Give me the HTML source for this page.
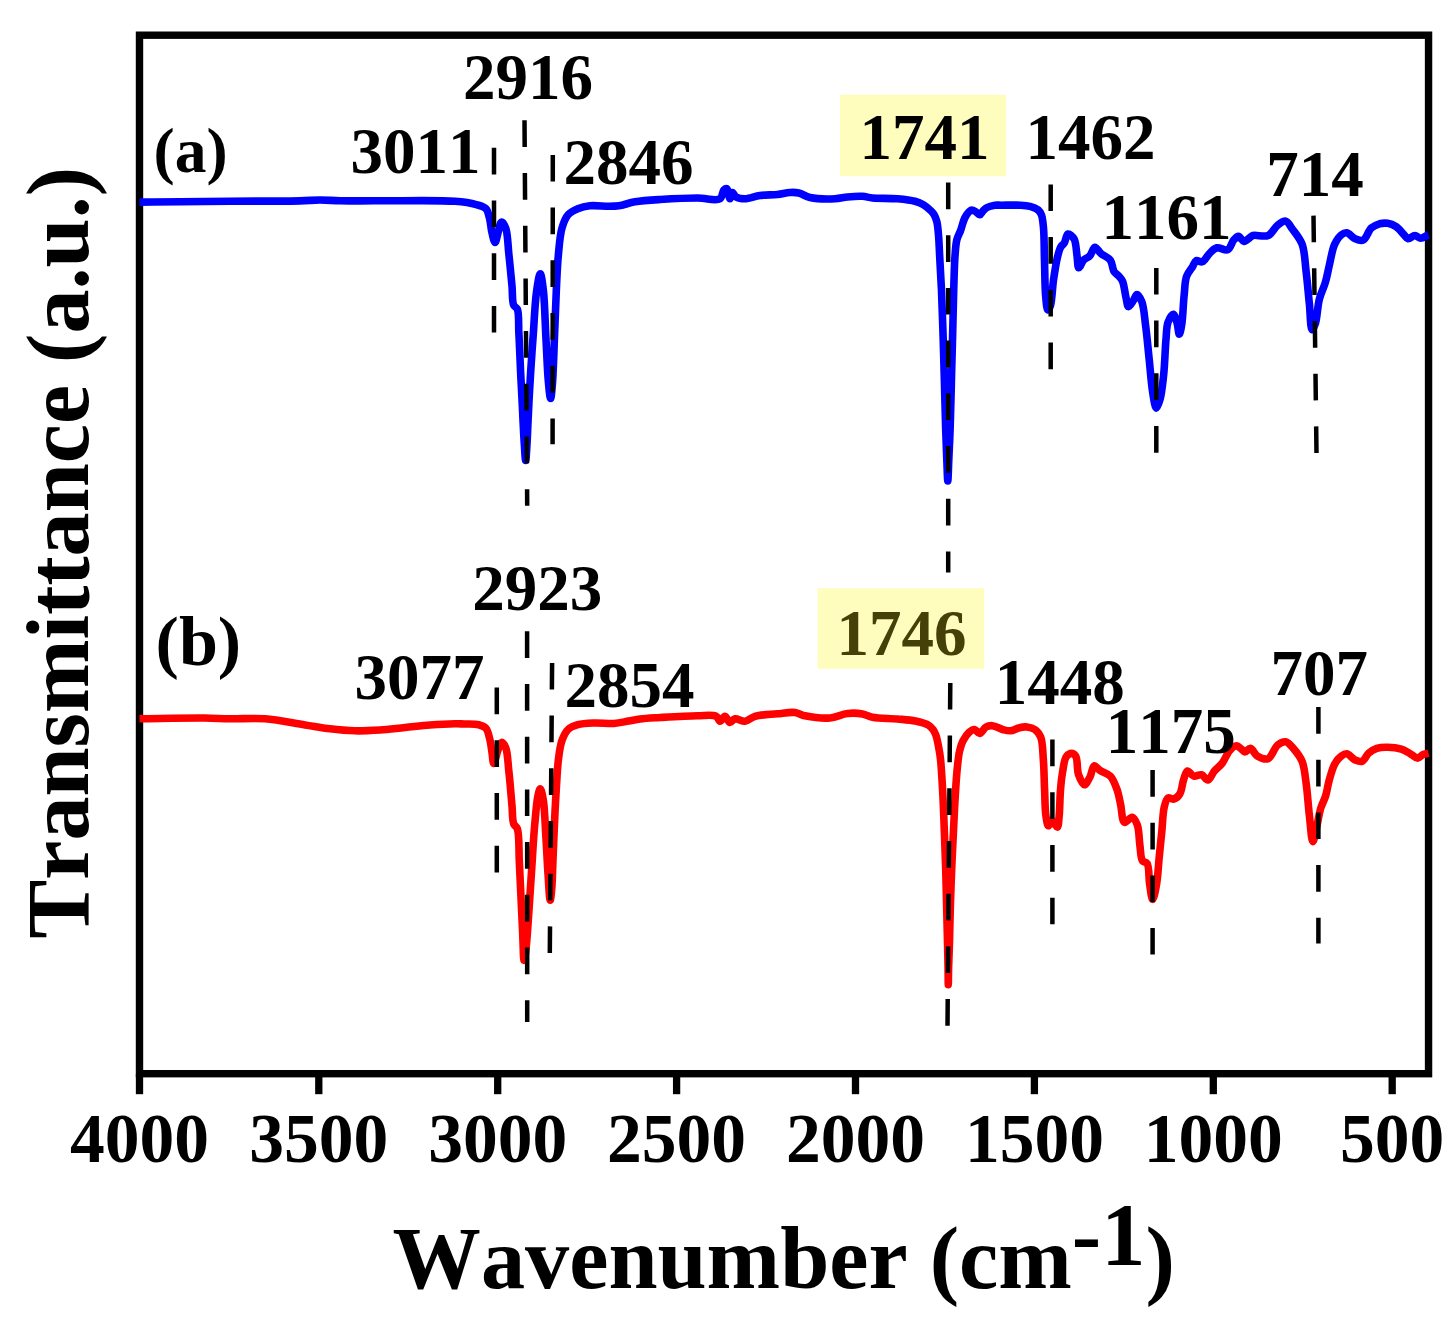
<!DOCTYPE html>
<html lang="en">
<head>
<meta charset="utf-8">
<title>FTIR spectra</title>
<style>
html,body{margin:0;padding:0;background:#fff;}
body{width:1455px;height:1324px;overflow:hidden;}
svg{display:block;font-family:"Liberation Serif",serif;font-weight:bold;font-kerning:none;}
.ax line{stroke:#000;stroke-width:7.3;}
.dash line{stroke:#000;stroke-width:4.5;stroke-dasharray:26.7 26.0;}
.tick text{font-size:69.5px;text-anchor:middle;}
.pk text{font-size:65px;}
.ttl{font-size:88.3px;}
.curve{fill:none;stroke-width:7.6;stroke-linejoin:round;stroke-linecap:butt;}
</style>
</head>
<body>
<svg width="1455" height="1324" viewBox="0 0 1455 1324">
<rect width="1455" height="1324" fill="#fff"/>
<rect x="839.9" y="94.7" width="166.2" height="81.5" fill="#fffdbe"/>
<rect x="817.6" y="588.2" width="166.6" height="80.6" fill="#fffdbe"/>
<g class="ax">
<rect x="139.5" y="35.2" width="1289.05" height="1038.5" fill="none" stroke="#000" stroke-width="7.4"/>
<line x1="139.5" y1="1074" x2="139.5" y2="1094.2"/>
<line x1="318.8" y1="1074" x2="318.8" y2="1094.2"/>
<line x1="497.7" y1="1074" x2="497.7" y2="1094.2"/>
<line x1="676.6" y1="1074" x2="676.6" y2="1094.2"/>
<line x1="855.5" y1="1074" x2="855.5" y2="1094.2"/>
<line x1="1034.4" y1="1074" x2="1034.4" y2="1094.2"/>
<line x1="1213.3" y1="1074" x2="1213.3" y2="1094.2"/>
<line x1="1392.2" y1="1074" x2="1392.2" y2="1094.2"/>
</g>
<path class="curve" stroke="#0000ff" d="M139.5,202.1C153.0,202.0 165.8,201.9 180.0,201.8C195.8,201.6 211.9,201.3 230.0,201.2C251.4,201.0 283.7,201.3 300.0,200.9C308.7,200.7 313.3,200.0 320.0,200.0C326.7,200.0 332.2,200.6 340.0,200.8C351.0,201.0 364.6,200.7 380.0,200.8C401.1,200.9 437.7,199.9 455.0,201.3C464.3,202.0 470.7,203.0 476.3,204.6C480.2,205.7 483.7,206.4 485.9,208.7C488.1,211.0 488.5,214.7 489.5,218.3C490.7,222.6 490.9,228.5 492.0,232.8C492.9,236.4 494.1,242.5 495.1,242.5C496.1,242.5 497.0,236.1 498.0,232.8C499.1,229.3 500.1,222.2 501.6,222.0C502.8,221.8 504.6,225.1 505.7,228.0C507.8,233.6 507.9,245.4 508.9,254.6C510.0,264.6 511.1,276.8 512.0,286.0C512.7,293.2 512.0,301.5 513.7,305.3C514.6,307.2 516.4,307.0 517.3,309.0C519.2,313.2 518.4,324.1 518.8,332.0C519.3,340.4 519.6,349.7 520.0,358.0C520.3,365.6 520.6,372.6 521.0,380.0C521.4,387.6 521.8,395.5 522.2,403.0C522.6,410.2 522.8,417.1 523.2,424.0C523.5,430.7 523.9,437.7 524.3,444.0C524.7,449.7 525.2,460.4 525.7,460.4C526.1,460.4 526.6,449.7 527.0,444.0C527.4,437.7 527.6,430.7 527.9,424.0C528.2,417.1 528.5,410.2 528.9,403.0C529.3,395.5 529.7,387.6 530.2,380.0C530.6,372.6 531.1,365.5 531.6,358.0C532.1,350.2 532.6,343.1 533.3,334.0C534.2,321.9 534.9,303.1 536.5,292.0C537.5,284.7 539.1,273.9 540.3,273.9C541.4,273.9 542.6,283.7 543.4,290.8C544.8,302.8 545.1,323.6 546.0,339.2C546.8,353.9 547.4,371.1 548.4,382.0C549.0,388.8 549.9,398.4 550.6,398.4C551.2,398.4 551.9,390.1 552.4,384.0C553.3,373.2 553.8,354.4 554.4,339.2C555.1,323.4 555.6,305.8 556.3,290.8C556.9,277.9 557.3,265.7 558.4,254.6C559.3,245.0 559.9,235.2 562.0,228.0C563.5,222.7 565.2,218.0 568.1,214.7C570.7,211.8 574.3,210.2 577.8,208.7C581.5,207.2 585.3,206.3 589.8,205.8C595.5,205.2 603.8,206.4 609.2,206.3C613.0,206.3 615.3,206.3 618.9,205.8C623.6,205.1 629.0,202.8 635.0,201.8C642.4,200.6 650.8,200.1 660.0,199.5C671.2,198.8 686.6,198.0 697.5,198.0C706.0,198.0 715.9,201.4 720.0,198.8C722.7,197.1 722.2,191.5 723.8,190.0C724.8,189.1 726.1,188.4 727.0,188.8C728.5,189.6 729.0,198.8 730.0,198.8C730.8,198.8 731.4,192.7 732.5,192.5C733.5,192.4 734.3,196.0 736.0,197.0C738.2,198.3 741.6,198.8 745.0,198.8C749.4,198.8 754.8,196.2 760.0,195.5C765.6,194.7 772.2,195.1 777.5,194.5C782.0,194.0 786.2,192.7 790.0,192.5C793.2,192.3 795.7,192.3 798.8,193.0C802.4,193.8 805.4,196.5 810.0,197.5C816.6,199.0 828.1,199.1 835.0,198.8C839.9,198.6 843.1,197.4 847.5,197.0C852.3,196.5 858.0,196.0 862.5,196.3C866.2,196.5 868.4,197.6 872.5,198.0C878.9,198.6 889.9,198.1 897.5,198.8C903.9,199.4 910.4,200.1 915.0,201.3C918.2,202.2 920.4,203.0 923.0,204.5C925.8,206.1 929.0,208.9 931.0,210.9C932.4,212.3 933.3,213.2 934.2,214.8C935.3,216.7 936.1,218.9 936.8,221.5C937.7,225.0 938.0,229.3 938.4,234.0C939.0,240.1 939.2,247.1 939.6,255.0C940.2,265.3 940.9,278.0 941.5,290.6C942.1,304.8 942.6,320.9 943.1,336.0C943.6,351.1 944.0,366.2 944.4,381.3C944.8,396.4 945.2,412.4 945.6,426.6C946.0,439.1 946.5,452.0 946.9,462.0C947.2,469.3 947.5,480.9 947.8,480.9C948.1,480.9 948.4,469.3 948.7,462.0C949.1,452.0 949.8,439.1 950.2,426.6C950.7,412.4 951.0,396.4 951.4,381.3C951.8,366.2 952.2,351.1 952.6,336.0C953.0,320.9 953.3,304.7 953.7,290.6C954.1,278.3 954.3,265.3 955.0,256.0C955.5,249.6 955.7,244.5 956.8,240.0C957.7,236.5 959.1,234.3 960.4,231.0C962.0,226.9 963.1,220.7 965.3,217.0C967.0,214.1 969.3,210.8 971.3,210.2C972.7,209.8 974.2,210.8 975.5,211.5C977.0,212.3 978.5,214.9 979.8,214.8C981.0,214.7 981.8,212.2 983.0,211.0C984.2,209.8 985.3,208.4 987.0,207.5C989.1,206.4 992.4,205.6 994.9,205.2C997.2,204.9 998.7,205.2 1001.5,205.2C1006.2,205.2 1015.6,204.9 1020.8,205.2C1024.4,205.4 1027.1,205.6 1030.0,206.4C1032.9,207.2 1036.2,208.3 1038.2,210.0C1039.8,211.4 1040.7,212.8 1041.5,215.0C1042.7,218.2 1043.0,222.7 1043.5,228.0C1044.3,236.4 1044.1,249.3 1044.5,260.4C1044.9,272.2 1044.8,287.6 1045.7,296.7C1046.2,302.2 1046.7,309.8 1047.9,310.0C1048.6,310.1 1049.6,308.2 1050.3,306.3C1052.0,301.6 1052.3,288.5 1053.5,280.0C1054.7,272.1 1056.0,263.0 1057.5,257.0C1058.5,253.0 1059.3,249.6 1060.7,247.1C1061.7,245.3 1063.2,244.7 1064.3,243.0C1065.7,240.7 1066.2,234.5 1068.0,234.0C1069.6,233.6 1072.5,236.3 1074.0,238.8C1076.2,242.5 1076.2,250.4 1077.0,255.5C1077.7,259.9 1077.5,267.5 1078.8,267.8C1079.9,268.0 1081.7,262.1 1083.7,260.0C1085.5,258.2 1088.0,257.7 1089.8,255.8C1091.9,253.6 1093.0,247.4 1094.9,247.2C1096.7,247.0 1098.5,251.4 1100.8,253.4C1103.5,255.8 1108.2,257.2 1110.4,260.2C1112.6,263.2 1112.3,268.7 1114.0,271.5C1115.3,273.5 1117.3,274.4 1118.7,276.0C1120.1,277.6 1121.4,278.8 1122.5,281.2C1124.2,285.1 1124.9,293.4 1126.1,298.1C1126.9,301.4 1127.2,306.3 1128.5,306.6C1129.7,306.8 1132.0,302.6 1133.4,300.5C1134.8,298.5 1135.7,294.5 1137.0,294.5C1138.5,294.5 1140.5,298.4 1141.8,301.7C1143.9,307.0 1144.4,316.3 1145.5,324.7C1146.9,334.9 1147.9,347.2 1149.1,358.5C1150.3,369.8 1151.2,383.3 1152.7,392.4C1153.7,398.7 1154.9,408.0 1156.3,408.1C1157.4,408.2 1159.0,403.2 1160.0,399.6C1161.7,393.7 1162.6,384.3 1163.6,375.4C1164.8,364.6 1165.1,349.0 1166.0,339.2C1166.6,332.5 1166.4,326.7 1168.0,322.3C1169.2,319.0 1171.8,314.2 1173.3,314.3C1174.7,314.4 1175.9,319.3 1176.9,322.3C1178.0,325.8 1178.5,334.3 1179.3,334.3C1180.1,334.3 1181.0,328.8 1181.7,324.7C1182.9,317.7 1183.2,304.4 1184.1,295.7C1184.9,288.6 1184.7,281.5 1186.6,276.3C1188.0,272.4 1190.9,269.5 1192.6,266.7C1194.0,264.4 1194.5,261.4 1196.2,260.6C1197.8,259.9 1200.4,262.5 1202.3,261.8C1204.9,260.9 1207.0,255.8 1209.5,253.4C1211.8,251.2 1214.0,248.5 1216.8,247.8C1219.9,247.1 1224.8,251.0 1227.6,249.8C1230.5,248.5 1231.6,242.5 1233.7,240.1C1235.2,238.4 1236.8,236.3 1238.4,236.3C1240.2,236.4 1242.0,241.2 1244.0,241.4C1245.9,241.6 1248.3,238.6 1250.0,237.5C1251.2,236.7 1251.6,235.9 1253.1,235.5C1256.2,234.6 1264.0,237.3 1268.1,235.5C1272.1,233.8 1274.3,227.7 1277.6,225.2C1280.2,223.2 1283.3,220.6 1285.7,221.1C1288.3,221.6 1290.1,226.0 1292.5,229.2C1295.6,233.4 1299.8,238.2 1302.1,244.2C1304.9,251.7 1304.9,261.9 1306.1,271.4C1307.4,281.8 1308.3,293.8 1309.4,304.0C1310.3,313.1 1310.4,329.5 1312.1,329.8C1313.0,330.0 1314.4,326.4 1315.4,323.5C1317.2,318.1 1317.5,306.3 1319.4,299.0C1321.0,292.8 1323.8,287.9 1325.4,282.3C1327.0,276.9 1327.8,271.7 1329.2,265.9C1330.8,259.2 1332.1,249.8 1334.7,244.2C1336.6,240.2 1339.1,236.5 1341.5,234.7C1343.2,233.4 1345.0,232.5 1346.9,232.8C1349.4,233.2 1352.2,237.6 1355.1,238.8C1357.7,239.9 1360.8,241.2 1363.2,240.1C1366.4,238.7 1368.3,230.7 1371.4,227.9C1373.9,225.7 1376.7,224.6 1379.5,223.8C1382.2,223.1 1385.0,222.9 1387.7,223.3C1390.5,223.7 1393.3,224.8 1395.9,226.5C1398.8,228.4 1401.8,232.4 1404.0,234.7C1405.6,236.3 1406.4,238.5 1408.1,238.8C1410.0,239.1 1412.8,235.5 1414.9,235.5C1416.8,235.5 1418.3,238.1 1420.3,238.2C1422.7,238.3 1425.8,235.9 1428.5,234.7"/>
<path class="curve" stroke="#ff0000" d="M139.5,718.8C161.3,718.5 188.3,717.8 205.0,718.0C215.3,718.1 221.0,718.7 230.0,718.8C240.7,719.0 253.0,717.9 265.0,718.8C277.9,719.8 293.2,723.2 305.0,725.0C314.3,726.4 321.6,727.8 330.0,728.8C338.3,729.8 346.7,730.6 355.0,730.8C363.3,731.0 371.7,730.5 380.0,730.0C388.3,729.5 396.7,728.3 405.0,727.5C413.3,726.7 421.7,725.6 430.0,725.0C438.3,724.4 448.7,723.9 455.0,723.8C458.8,723.7 460.8,723.9 464.2,724.0C468.5,724.2 474.8,723.7 478.7,724.7C481.6,725.5 484.1,726.3 485.9,728.3C487.9,730.5 488.5,734.4 489.5,738.0C490.7,742.3 491.3,748.0 492.0,752.5C492.6,756.4 492.9,763.3 493.7,763.4C494.3,763.5 495.3,759.2 496.0,757.0C496.7,754.8 497.1,752.4 498.0,750.1C499.0,747.6 500.2,742.6 501.6,742.4C502.8,742.3 504.6,745.1 505.7,747.7C507.8,752.7 507.9,763.1 508.9,771.8C510.1,782.1 511.1,796.2 512.0,805.7C512.6,812.7 512.2,819.8 513.7,823.8C514.6,826.1 516.4,826.1 517.3,828.6C519.5,834.5 518.7,850.1 519.3,861.3C519.9,873.1 520.4,885.4 521.0,897.5C521.6,909.6 522.1,922.6 522.7,933.8C523.2,943.4 523.3,960.4 524.1,960.4C524.6,960.4 525.3,954.8 525.8,950.7C526.7,943.6 527.4,932.6 528.2,921.7C529.2,907.6 530.3,889.5 531.4,873.4C532.5,857.3 533.4,839.1 534.7,825.0C535.7,814.1 536.5,802.4 537.9,796.0C538.6,792.7 539.5,788.8 540.3,788.8C541.3,788.8 542.6,795.7 543.4,800.8C544.8,809.6 545.1,825.0 545.9,837.1C546.7,849.2 547.2,862.2 548.0,873.4C548.7,883.0 549.4,900.2 550.2,900.2C550.7,900.2 551.4,892.8 551.8,888.0C552.4,881.0 552.5,870.6 552.9,862.0C553.2,853.6 553.6,845.4 553.9,837.1C554.3,828.7 554.6,820.2 555.0,812.0C555.4,804.1 555.8,797.0 556.3,788.8C556.9,779.7 557.3,768.5 558.4,759.8C559.3,752.7 560.0,745.8 562.0,740.4C563.6,736.1 565.3,732.1 568.1,729.5C570.7,727.0 574.0,725.8 577.8,724.7C582.6,723.3 588.9,723.2 594.7,723.0C600.9,722.8 608.0,723.9 614.0,723.5C619.2,723.1 623.9,721.9 628.5,721.1C632.6,720.4 635.6,719.6 640.0,719.0C645.7,718.3 652.3,718.0 660.0,717.5C670.5,716.9 687.1,715.9 697.5,715.8C704.8,715.7 712.7,714.4 716.3,716.3C718.4,717.4 718.6,721.2 720.0,721.3C721.5,721.4 723.4,716.2 725.0,716.3C726.7,716.4 728.2,722.3 730.0,722.5C731.6,722.7 732.9,719.2 735.0,718.8C737.7,718.3 741.7,721.7 745.0,721.3C748.4,720.9 750.9,717.5 755.0,716.3C760.9,714.6 770.5,714.5 777.5,713.8C783.7,713.2 790.0,711.9 795.0,712.5C798.9,713.0 800.9,714.9 805.0,715.8C811.4,717.1 822.5,718.6 830.0,718.0C836.4,717.5 841.8,714.1 847.5,713.5C852.7,712.9 858.1,713.2 862.5,714.0C866.2,714.7 868.4,716.5 872.5,717.3C878.9,718.6 889.9,718.3 897.5,719.0C904.0,719.6 910.0,719.9 915.4,721.0C920.1,722.0 925.1,723.2 928.2,725.0C930.4,726.3 931.7,727.8 933.0,729.5C934.3,731.3 935.1,733.1 936.0,735.5C937.2,738.9 938.0,743.9 938.8,748.0C939.6,752.0 940.1,755.1 940.6,760.0C941.4,767.7 942.0,779.3 942.6,790.0C943.3,802.4 943.8,816.8 944.3,830.0C944.8,843.0 945.3,856.1 945.7,868.8C946.1,881.1 946.3,892.9 946.6,905.0C946.9,917.1 947.2,930.1 947.5,941.3C947.7,950.9 948.0,960.1 948.1,968.0C948.2,974.2 948.2,984.7 948.3,984.7C948.4,984.7 948.4,974.2 948.6,968.0C948.8,960.1 949.2,950.9 949.5,941.3C949.8,930.1 950.0,917.1 950.4,905.0C950.8,892.9 951.2,880.9 951.7,868.8C952.2,856.7 952.8,844.5 953.4,832.5C954.0,820.6 954.5,808.3 955.2,797.0C955.8,786.6 956.5,775.4 957.4,767.0C958.1,760.8 958.5,755.7 959.6,751.0C960.5,747.3 961.3,744.2 962.9,741.1C964.5,737.9 967.0,734.1 969.3,732.1C971.0,730.7 972.8,729.3 974.5,729.5C976.3,729.7 977.9,733.5 979.6,733.4C981.7,733.3 983.7,728.3 986.0,727.0C988.0,725.9 990.0,725.5 992.4,725.7C995.5,725.9 999.5,728.6 1002.7,729.5C1005.4,730.2 1007.8,731.0 1010.4,730.8C1013.3,730.6 1016.5,728.3 1019.4,727.7C1022.0,727.1 1024.6,726.7 1027.1,727.0C1029.7,727.3 1032.6,727.9 1034.8,729.5C1037.2,731.2 1039.3,733.7 1040.7,737.2C1042.8,742.4 1042.7,751.2 1043.3,759.1C1044.1,768.5 1044.1,780.1 1044.6,789.9C1045.0,798.9 1044.9,809.0 1045.9,815.6C1046.5,819.8 1047.3,825.6 1048.4,825.8C1049.3,825.9 1050.4,820.8 1051.5,820.7C1052.3,820.6 1053.2,822.3 1054.1,823.3C1055.2,824.4 1056.6,827.3 1057.4,827.1C1058.6,826.7 1058.7,820.2 1059.2,815.6C1059.9,808.7 1059.8,797.7 1060.5,789.9C1061.0,783.4 1061.6,777.6 1062.6,771.9C1063.6,766.5 1064.1,759.5 1066.4,756.5C1067.9,754.6 1070.4,753.2 1072.1,753.4C1073.5,753.5 1074.9,754.8 1075.9,756.5C1077.8,759.9 1076.8,769.5 1078.5,774.5C1079.9,778.5 1082.4,784.6 1084.4,784.7C1086.2,784.8 1088.4,779.9 1090.0,777.0C1091.8,773.7 1092.2,766.4 1094.2,765.8C1095.8,765.4 1097.8,769.0 1100.1,770.5C1103.0,772.4 1107.6,773.3 1110.3,776.1C1113.3,779.2 1115.1,784.3 1116.8,788.9C1118.6,793.7 1119.4,799.0 1120.6,804.4C1121.9,810.1 1121.8,821.2 1124.5,822.3C1126.4,823.1 1130.1,816.8 1132.2,817.2C1134.3,817.6 1136.0,821.5 1137.3,824.9C1139.2,829.9 1139.0,839.1 1139.9,845.4C1140.7,850.9 1140.5,858.1 1142.5,860.9C1143.7,862.5 1145.9,861.7 1147.1,863.4C1149.4,866.8 1148.6,877.7 1149.6,884.0C1150.5,889.5 1151.5,899.4 1152.7,899.4C1153.9,899.4 1155.6,889.8 1156.6,884.0C1157.9,876.6 1158.3,866.9 1159.1,858.3C1160.0,849.7 1160.8,841.2 1161.7,832.6C1162.6,824.0 1162.7,813.2 1164.3,806.9C1165.3,803.0 1166.2,798.8 1168.1,797.9C1169.5,797.2 1171.6,799.6 1173.3,799.2C1175.4,798.7 1178.1,796.6 1179.7,794.1C1181.9,790.8 1182.1,784.1 1183.5,780.0C1184.7,776.6 1185.6,771.5 1187.4,771.0C1189.1,770.6 1191.4,775.5 1193.8,776.1C1196.1,776.7 1199.2,774.2 1201.5,774.8C1203.9,775.4 1205.9,780.3 1207.9,780.0C1210.2,779.7 1212.0,773.8 1214.4,771.0C1216.8,768.2 1219.7,766.4 1222.1,763.3C1224.9,759.7 1227.0,753.4 1229.8,750.4C1231.8,748.2 1234.1,745.9 1236.2,745.8C1238.2,745.7 1240.4,748.4 1242.0,749.5C1243.2,750.4 1243.8,751.8 1245.0,751.9C1246.5,752.0 1248.6,748.1 1250.4,748.3C1252.7,748.6 1254.4,754.2 1257.2,755.9C1260.2,757.7 1264.9,759.9 1268.1,758.7C1271.9,757.3 1274.1,747.9 1277.6,745.1C1280.1,743.1 1283.1,741.4 1285.7,741.8C1288.6,742.3 1291.3,746.2 1293.9,749.1C1296.9,752.5 1300.1,756.5 1302.1,761.4C1304.5,767.4 1305.0,775.1 1306.1,783.1C1307.5,792.9 1308.2,805.6 1309.4,815.8C1310.5,824.9 1311.4,841.5 1312.9,841.6C1314.1,841.7 1315.7,831.0 1317.0,825.5C1318.3,819.8 1319.2,813.2 1320.8,808.0C1322.2,803.6 1324.2,800.3 1325.6,796.0C1327.1,791.2 1327.7,785.6 1329.2,780.4C1330.7,775.0 1332.3,768.4 1334.7,764.1C1336.6,760.7 1339.1,757.6 1341.5,755.9C1343.2,754.6 1345.0,753.5 1346.9,753.8C1349.4,754.2 1352.4,758.8 1355.1,760.0C1357.4,761.0 1359.8,762.1 1361.9,761.4C1364.5,760.5 1366.1,755.4 1368.7,753.2C1371.1,751.1 1373.8,749.3 1376.8,748.3C1380.1,747.2 1383.9,747.1 1387.7,747.2C1392.0,747.3 1397.4,747.9 1401.3,749.1C1404.5,750.1 1406.8,751.7 1409.5,753.2C1412.2,754.7 1415.2,758.1 1417.6,758.1C1419.6,758.1 1421.1,755.4 1423.0,754.6C1424.8,753.8 1426.7,753.7 1428.5,753.2"/>
<g class="dash">
<line x1="494.0" y1="147.8" x2="494.0" y2="333.2"/>
<line x1="524.5" y1="120.3" x2="527.2" y2="505.8"/>
<line x1="552.8" y1="154.9" x2="552.6" y2="444.2"/>
<line x1="948.2" y1="182.5" x2="948.2" y2="572.4"/>
<line x1="1050.7" y1="184.4" x2="1050.7" y2="369.2"/>
<line x1="1156.3" y1="267.9" x2="1156.3" y2="452.8"/>
<line x1="1313.5" y1="215.6" x2="1316.5" y2="453.5"/>
<line x1="496.8" y1="687.6" x2="496.8" y2="872.4"/>
<line x1="527.1" y1="631.3" x2="527.2" y2="1021.9"/>
<line x1="552.1" y1="662.9" x2="549.8" y2="953.6"/>
<line x1="950.3" y1="682.9" x2="947.5" y2="1026.3"/>
<line x1="1052.4" y1="739.6" x2="1052.4" y2="924.2"/>
<line x1="1152.6" y1="770.0" x2="1152.6" y2="954.6"/>
<line x1="1318.4" y1="707.0" x2="1318.4" y2="943.5"/>
</g>
<g class="tick">
<text x="139.5" y="1161.5">4000</text>
<text x="318.8" y="1161.5">3500</text>
<text x="497.7" y="1161.5">3000</text>
<text x="676.6" y="1161.5">2500</text>
<text x="855.5" y="1161.5">2000</text>
<text x="1034.4" y="1161.5">1500</text>
<text x="1213.3" y="1161.5">1000</text>
<text x="1392.2" y="1161.5">500</text>
</g>
<g class="pk">
<text x="463.0" y="98.5">2916</text>
<text x="350.6" y="172.8">3011</text>
<text x="563.6" y="183.9">2846</text>
<text x="859.6" y="159.0">1741</text>
<text x="1025.5" y="158.6">1462</text>
<text x="1101.4" y="238.8">1161</text>
<text x="1266.2" y="196.3">714</text>
<text x="472.2" y="609.6">2923</text>
<text x="354.4" y="699.3">3077</text>
<text x="564.4" y="707.2">2854</text>
<text x="994.8" y="703.8">1448</text>
<text x="1105.8" y="752.6">1175</text>
<text x="1270.6" y="695.0">707</text>
<text x="836.4" y="654.6" fill="#454008">1746</text>
<text x="153.6" y="171.8" style="font-size:63.5px">(a)</text>
<text x="155.6" y="664.6" style="font-size:70px">(b)</text>
</g>
<text class="ttl" x="392.6" y="1287.5">Wavenumber (cm<tspan dy="-23.5">-1</tspan><tspan dy="23.5">)</tspan></text>
<text class="ttl" style="font-size:88.2px" transform="translate(88.2,938.5) rotate(-90)">Transmittance (a.u.)</text>
</svg>
</body>
</html>
